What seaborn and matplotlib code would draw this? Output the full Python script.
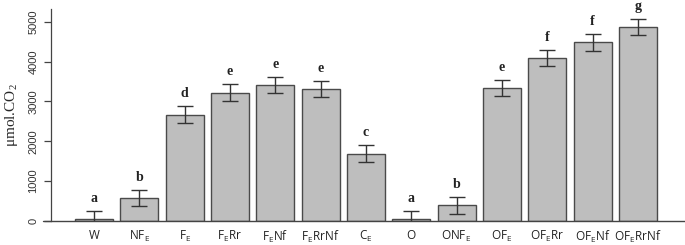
import matplotlib
matplotlib.use("Agg")
import matplotlib.pyplot as plt
import seaborn as sns
import pandas as pd

# treatments, means, error and significance letters
treatments = ["W", "NF$_E$", "F$_E$", "F$_E$Rr", "F$_E$Nf", "F$_E$RrNf", "C$_E$",
              "O", "ONF$_E$", "OF$_E$", "OF$_E$Rr", "OF$_E$Nf", "OF$_E$RrNf"]
co2 = [50, 580, 2670, 3220, 3400, 3310, 1690, 60, 390, 3340, 4090, 4480, 4860]
err = [200, 200, 205, 205, 200, 205, 205, 190, 205, 205, 205, 205, 205]
letters = ["a", "b", "d", "e", "e", "e", "c", "a", "b", "e", "f", "f", "g"]

df = pd.DataFrame({"treatment": treatments, "co2": co2})

sns.set_style("white")
plt.rcParams["mathtext.default"] = "regular"

fig = plt.figure(figsize=(6.85, 2.45), dpi=100)
ax = fig.add_axes([51 / 685, 24 / 245, 1 - 51 / 685, 212 / 245])

sns.barplot(data=df, x="treatment", y="co2", order=treatments, color="#bebebe",
            saturation=1, width=0.84, edgecolor="#4a4a4a", linewidth=1.0, ax=ax)

xs = list(range(len(treatments)))
ax.errorbar(xs, co2, yerr=err, fmt="none", ecolor="#333333", elinewidth=1.0,
            capsize=6, capthick=1.0)

for x, m, e, lab in zip(xs, co2, err, letters):
    ax.text(x, m + e + 230, lab, ha="center", va="baseline", fontsize=10,
            fontweight="bold", family="Liberation Serif", color="#222222")

ax.set_xlim(-0.95, 13.04)
ax.set_ylim(0, 5318)
ax.set_yticks([0, 1000, 2000, 3000, 4000, 5000])
ax.set_yticklabels(["0", "1000", "2000", "3000", "4000", "5000"], rotation=90,
                   va="center", fontsize=8, family="Liberation Sans", color="#333333")
ax.set_xticks(xs)
ax.set_xticklabels(treatments, fontsize=8.5, family="Open Sans", color="#222222")
ax.tick_params(axis="y", left=True, length=5, width=0.9, color="#444444", pad=4)
ax.tick_params(axis="x", bottom=False, pad=2.3)

ax.set_xlabel("")
ax.set_ylabel("μmol.CO$_2$", fontsize=11, family="Liberation Serif", labelpad=6)

for s in ["top", "right", "bottom"]:
    ax.spines[s].set_visible(False)
ax.spines["left"].set_color("#444444")
ax.spines["left"].set_linewidth(0.9)
ax.axhline(0, xmin=-0.013, xmax=1, color="#444444", linewidth=1.0, clip_on=False)

fig.savefig("out.png", dpi=100)
